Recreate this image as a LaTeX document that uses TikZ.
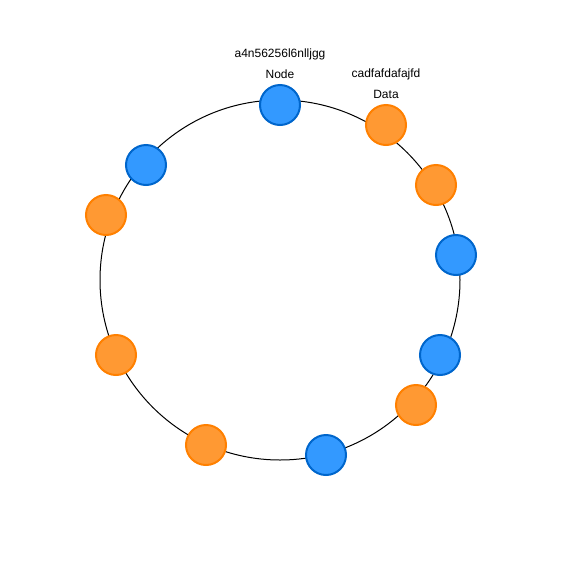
\documentclass[tikz,border=0pt]{standalone}
\usepackage{fontspec}
\setmainfont{Liberation Sans}
\definecolor{bfill}{HTML}{3399FF}
\definecolor{bline}{HTML}{0066CC}
\definecolor{ofill}{HTML}{FF9933}
\definecolor{oline}{HTML}{FF8000}
\begin{document}
\begin{tikzpicture}[x=0.75pt,y=-0.75pt,
  ring/.style={draw=black,line width=0.75pt},
  nodedot/.style={circle,draw=bline,fill=bfill,line width=1.5pt,minimum size=30pt,inner sep=0pt},
  datadot/.style={circle,draw=oline,fill=ofill,line width=1.5pt,minimum size=30pt,inner sep=0pt},
  lbl/.style={inner sep=0pt,font=\fontsize{9}{10.8}\selectfont}]
\useasboundingbox (0,0) rectangle (561,561);
\fill[white] (0,0) rectangle (561,561);
\node[circle,minimum size=270pt,inner sep=0pt,ring] (ring) at (280,280) {};
% blue nodes
\node[nodedot] (n1) at (280,105) {};
\node[nodedot] (n2) at (146,165) {};
\node[nodedot] (n3) at (456,255) {};
\node[nodedot] (n4) at (440,355) {};
\node[nodedot] (n5) at (326,455) {};
% orange data
\node[datadot] (d1) at (386,125) {};
\node[datadot] (d2) at (436,185) {};
\node[datadot] (d3) at (106,215) {};
\node[datadot] (d4) at (116,355) {};
\node[datadot] (d5) at (416,405) {};
\node[datadot] (d6) at (206,445) {};
% labels
\node[lbl] (t1) at (280,54) {a4n56256l6nlljgg};
\node[lbl] (t2) at (280,74) {Node};
\node[lbl] (t3) at (386,74) {cadfafdafajfd};
\node[lbl] (t4) at (386,94) {Data};
\end{tikzpicture}
\end{document}
